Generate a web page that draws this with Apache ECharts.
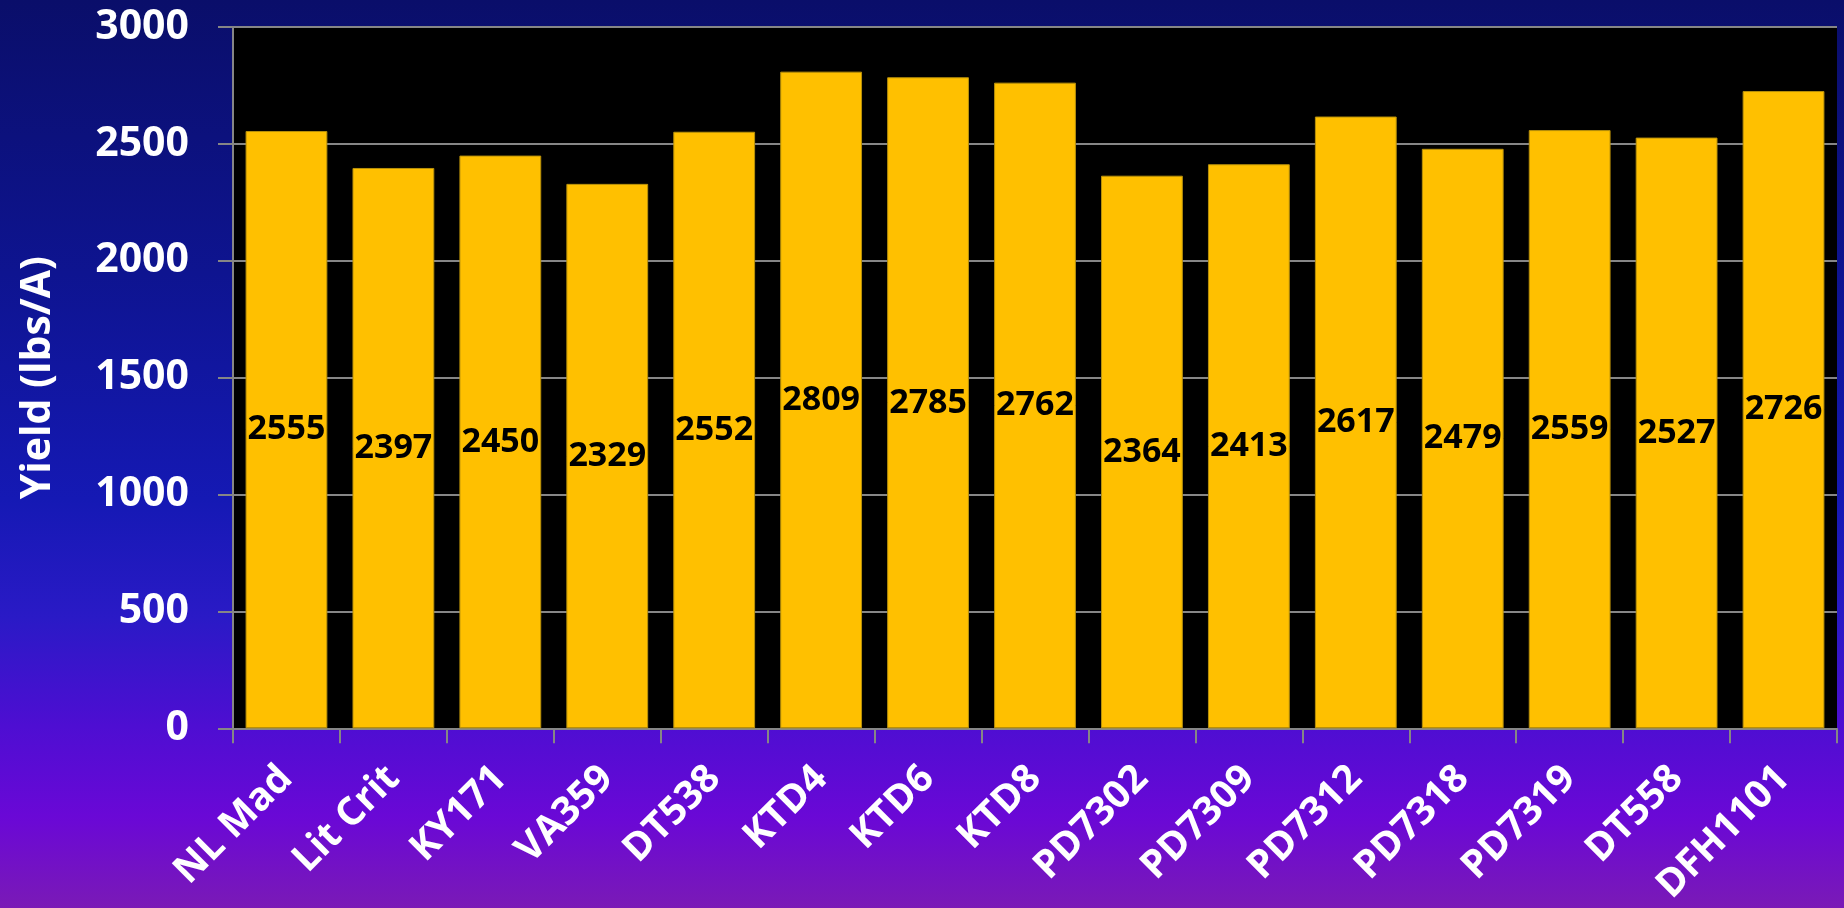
<!DOCTYPE html>
<html>
<head>
<meta charset="utf-8">
<script src="https://cdn.jsdelivr.net/npm/echarts@6/dist/echarts.min.js"></script>
<style>
html,body{margin:0;padding:0;width:1844px;height:908px;overflow:hidden;}
#c{width:1844px;height:908px;}
</style>
</head>
<body>
<div id="c"></div>
<script>
const categories = ['NL Mad','Lit Crit','KY171','VA359','DT538','KTD4','KTD6','KTD8','PD7302','PD7309','PD7312','PD7318','PD7319','DT558','DFH1101'];
const yields = [2555,2397,2450,2329,2552,2809,2785,2762,2364,2413,2617,2479,2559,2527,2726];
const yAxisName = 'Yield (lbs/A)';

const FONT = '"Open Sans", "Liberation Sans", sans-serif';
const chart = echarts.init(document.getElementById('c'));
chart.setOption({
  animation: false,
  backgroundColor: new echarts.graphic.LinearGradient(0,0,0,1,[
    {offset:0, color:'#0a0e6a'},
    {offset:0.3, color:'#0e1490'},
    {offset:0.55, color:'#1519b4'},
    {offset:0.68, color:'#2a1ac6'},
    {offset:0.8, color:'#4e0ed2'},
    {offset:0.9, color:'#6a08d6'},
    {offset:1, color:'#7a1ab6'}
  ]),
  grid: {left:233, right:7, top:27, bottom:176, show:true, backgroundColor:'#000000', borderWidth:0, containLabel:false},
  xAxis: {
    type:'category',
    data: categories,
    axisLine:{lineStyle:{color:'#868686', width:2}},
    axisTick:{show:true, length:15, lineStyle:{color:'#868686', width:2}},
    axisLabel:{rotate:45, color:'#ffffff', fontSize:39, fontWeight:'bold', fontFamily:FONT, margin:44, interval:0}
  },
  yAxis: {
    type:'value', min:0, max:3000, interval:500,
    name: yAxisName, nameLocation:'middle', nameGap:174, nameRotate:90,
    nameTextStyle:{color:'#ffffff', fontSize:41, fontWeight:'bold', fontFamily:FONT},
    axisLine:{show:true, lineStyle:{color:'#868686', width:2}},
    axisTick:{show:true, length:15, lineStyle:{color:'#868686', width:2}},
    splitLine:{lineStyle:{color:'#868686', width:2}},
    axisLabel:{color:'#ffffff', fontSize:41, fontWeight:'bold', fontFamily:FONT, margin:44, formatter: v => String(v)}
  },
  series: [{
    type:'bar',
    data: yields,
    barCategoryGap:'23.5%',
    itemStyle:{color:'#FFC000', borderColor:'#b8900a', borderWidth:1},
    label:{show:true, position:'inside', color:'#000000', fontSize:34, fontWeight:'bold', fontFamily:FONT}
  }]
});
</script>
</body>
</html>
